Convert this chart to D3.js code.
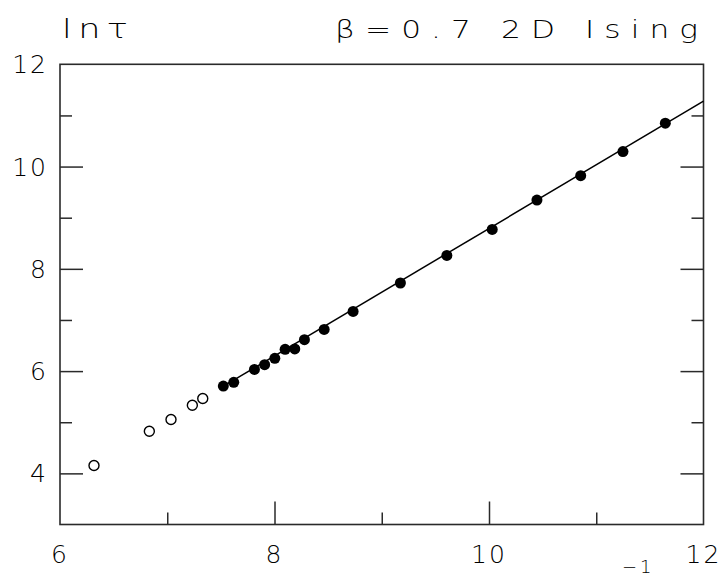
<!DOCTYPE html>
<html>
<head>
<meta charset="utf-8">
<script src="https://cdn.jsdelivr.net/npm/d3@7"></script>
<style>
  html, body { margin: 0; padding: 0; background: #fff; }
  text { font-family: "DejaVu Sans", "Liberation Sans", sans-serif; fill: #000; }
</style>
</head>
<body>
<svg id="chart" width="724" height="576"></svg>
<script>
// Open circles (early-time / excluded points)
const openX = [6.317, 6.833, 7.035, 7.234, 7.331];
const openY = [4.154, 4.824, 5.053, 5.332, 5.463];
// Filled circles (points used in fit)
const fillX = [7.523, 7.620, 7.813, 7.908, 8.003, 8.099, 8.189, 8.279, 8.463, 8.733, 9.174, 9.607, 10.030, 10.447, 10.855, 11.249, 11.644];
const fillY = [5.707, 5.781, 6.033, 6.125, 6.250, 6.426, 6.434, 6.615, 6.816, 7.166, 7.723, 8.262, 8.770, 9.344, 9.822, 10.293, 10.848];
// Fit line endpoints
const lineX = [7.52, 12.0];
const lineY = [5.70, 11.28];
// Ticks
const xMajor = [6, 8, 10, 12];
const xMinor = [7, 9, 11];
const yMajor = [4, 6, 8, 10, 12];
const yMinor = [5, 7, 9, 11];
const titleLeft = "ln\u03C4";
const titleRight = "\u03B2=0.7 2D Ising";
const xUnitLabel = "\u22121";

const svg = d3.select("#chart");
const L = 60, R = 703.5, T = 64.3, B = 524.5;
const x = d3.scaleLinear().domain([6, 12]).range([L, R]);
const y = d3.scaleLinear().domain([3, 12]).range([B, T]);
const axisColor = "#2a2a2a";

// ticks via d3 axes (inside)
const major = 23, minor = 12;
function addAxis(axisFn, scale, vals, len, transform) {
  const g = svg.append("g").attr("transform", transform)
    .call(axisFn(scale).tickValues(vals).tickSize(len).tickFormat(""));
  g.select(".domain").remove();
  g.selectAll("line").attr("stroke", axisColor).attr("stroke-width", 1.5);
}
addAxis(d3.axisTop, x, xMajor.filter(v => v > 6 && v < 12), major, `translate(0,${B})`);
addAxis(d3.axisTop, x, xMinor, minor, `translate(0,${B})`);
addAxis(d3.axisRight, y, yMajor.filter(v => v > 3 && v < 12), major, `translate(${L},0)`);
addAxis(d3.axisRight, y, yMinor, minor, `translate(${L},0)`);
addAxis(d3.axisLeft, y, yMajor.filter(v => v > 3 && v < 12), major, `translate(${R},0)`);
addAxis(d3.axisLeft, y, yMinor, minor, `translate(${R},0)`);

// frame
svg.append("rect").attr("x", L).attr("y", T).attr("width", R - L).attr("height", B - T)
  .attr("fill", "none").attr("stroke", axisColor).attr("stroke-width", 1.6);

// tick labels
svg.selectAll("text.xl").data(xMajor).join("text")
  .attr("class", "xl").attr("x", d => x(d)).attr("y", 563)
  .attr("text-anchor", "middle").attr("font-size", 25).attr("font-weight", 200)
  .attr("letter-spacing", 2)
  .text(d => d);
svg.selectAll("text.yl").data(yMajor).join("text")
  .attr("class", "yl").attr("x", 48).attr("y", d => y(d) + 9)
  .attr("text-anchor", "end").attr("font-size", 25).attr("font-weight", 200)
  .attr("letter-spacing", 2)
  .text(d => d);

// fit line
svg.append("path")
  .attr("d", d3.line().x(d => x(d[0])).y(d => y(d[1]))(d3.zip(lineX, lineY)))
  .attr("stroke", "#000").attr("stroke-width", 1.5).attr("fill", "none");

// points
svg.selectAll("circle.open").data(d3.zip(openX, openY)).join("circle")
  .attr("class", "open").attr("cx", d => x(d[0])).attr("cy", d => y(d[1])).attr("r", 5)
  .attr("fill", "#fff").attr("stroke", "#000").attr("stroke-width", 1.4);
svg.selectAll("circle.fill").data(d3.zip(fillX, fillY)).join("circle")
  .attr("class", "fill").attr("cx", d => x(d[0])).attr("cy", d => y(d[1])).attr("r", 5.5)
  .attr("fill", "#000");

// titles (horizontally stretched to mimic wide stroke font)
const sx = 1.3;
svg.append("g").attr("transform", `translate(62,38) scale(${sx},1)`)
  .append("text").attr("x", 0).attr("y", 0).attr("font-size", 27).attr("font-weight", 200)
  .attr("textLength", 66 / sx).attr("lengthAdjust", "spacing").text(titleLeft);
svg.append("g").attr("transform", `translate(335,38) scale(${sx},1)`)
  .append("text").attr("x", 0).attr("y", 0).attr("font-size", 24).attr("font-weight", 200)
  .attr("textLength", 363 / sx).attr("lengthAdjust", "spacing").text(titleRight);
svg.append("text").attr("x", 622).attr("y", 573).attr("font-size", 18).attr("font-weight", 200)
  .attr("letter-spacing", 3).text(xUnitLabel);
</script>
</body>
</html>
